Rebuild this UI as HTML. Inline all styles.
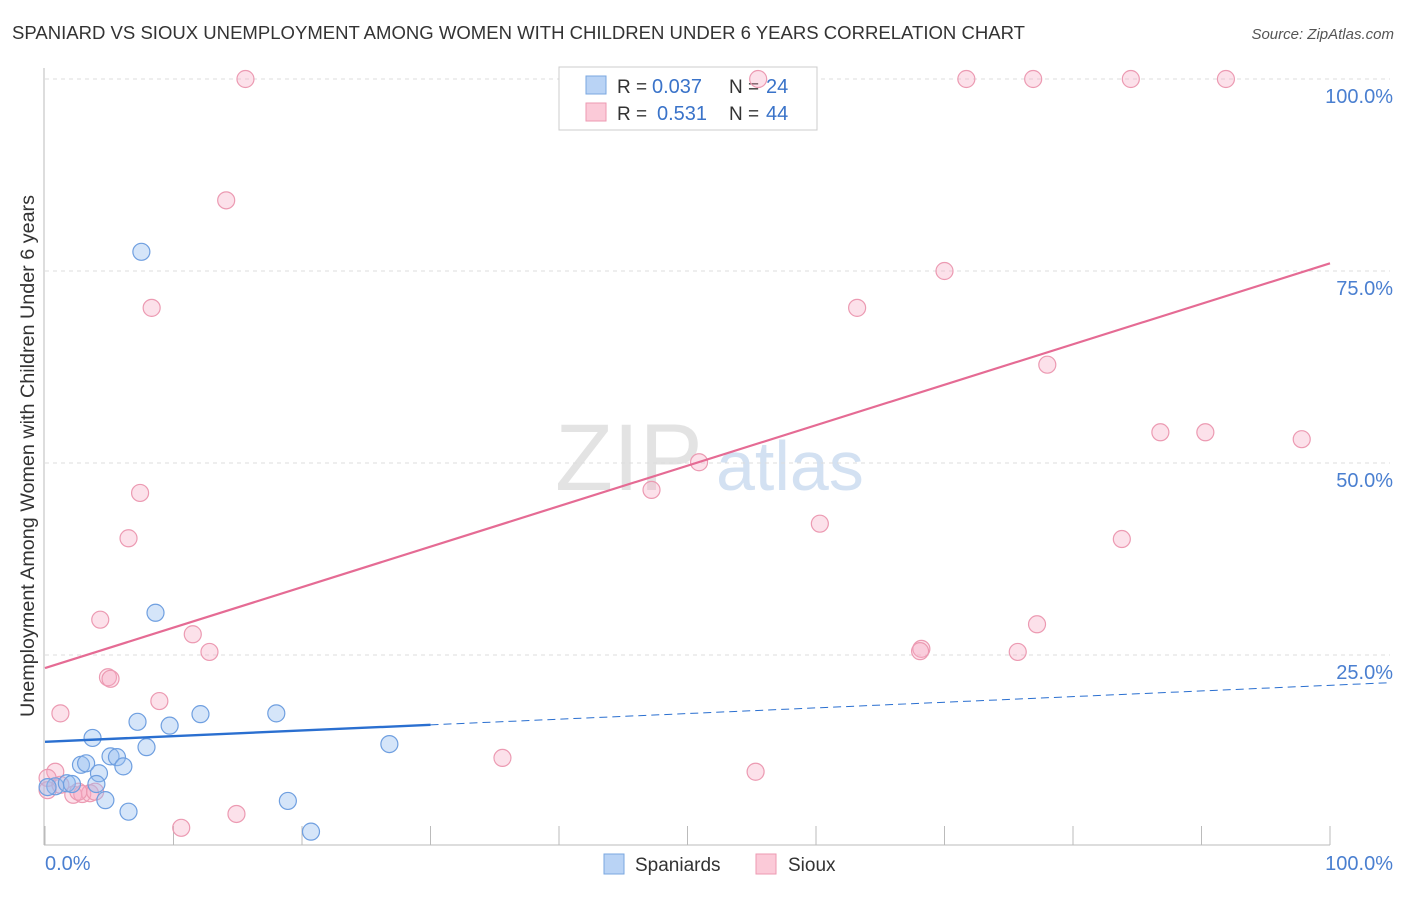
<!DOCTYPE html>
<html><head><meta charset="utf-8"><style>
body{margin:0;background:#fff;font-family:"Liberation Sans",sans-serif;}
svg text{font-family:"Liberation Sans",sans-serif;}
</style></head><body>
<svg id="chart" width="1406" height="892" xmlns="http://www.w3.org/2000/svg">
<text x="12" y="39" font-size="18" fill="#333" textLength="1013" lengthAdjust="spacingAndGlyphs">SPANIARD VS SIOUX UNEMPLOYMENT AMONG WOMEN WITH CHILDREN UNDER 6 YEARS CORRELATION CHART</text>
<text x="1394" y="39" font-size="15" fill="#555" font-style="italic" text-anchor="end">Source: ZipAtlas.com</text>
<text transform="translate(34,456) rotate(-90)" font-size="19" fill="#333" text-anchor="middle" textLength="522" lengthAdjust="spacingAndGlyphs">Unemployment Among Women with Children Under 6 years</text>
<g><text x="555" y="490" font-size="95" fill="#ddd" font-family="Liberation Serif" opacity="0.8">ZIP</text><text x="716" y="490" font-size="70" fill="#c9daf0" opacity="0.8">atlas</text></g>
<g id="grid"></g><g id="axes"></g>
<g>
<rect x="559" y="67" width="258" height="63" fill="#fff" stroke="#ccc"/>
<rect x="586" y="76" width="20" height="18" fill="#b9d3f5" stroke="#7aa7e0"/>
<rect x="586" y="103" width="20" height="18" fill="#fbcad8" stroke="#ec9ab2"/>
<text x="617" y="93" font-size="19" fill="#333">R =</text><text x="652" y="93" font-size="20" fill="#3a73c9">0.037</text>
<text x="729" y="93" font-size="19" fill="#333">N =</text><text x="766" y="93" font-size="20" fill="#3a73c9">24</text>
<text x="617" y="120" font-size="19" fill="#333">R =</text><text x="657" y="120" font-size="20" fill="#3a73c9">0.531</text>
<text x="729" y="120" font-size="19" fill="#333">N =</text><text x="766" y="120" font-size="20" fill="#3a73c9">44</text>
</g>
<g id="marks"></g>
<g>
<rect x="604" y="854" width="20" height="20" fill="#b9d3f5" stroke="#7aa7e0"/>
<text x="635" y="871" font-size="19" fill="#333">Spaniards</text>
<rect x="756" y="854" width="20" height="20" fill="#fbcad8" stroke="#ec9ab2"/>
<text x="788" y="871" font-size="19" fill="#333">Sioux</text>
</g>
</svg>
<script>
const yTicks=[25,50,75,100];
const yTickLabels=["25.0%","50.0%","75.0%","100.0%"];
const spanX=[7.5,8.6,3.7,7.2,9.7,12.1,18.0,7.9,5.1,5.6,6.1,2.8,3.2,4.2,26.8,0.8,1.7,4.0,2.1,4.7,6.5,18.9,20.7,0.2];
const spanY=[77.5,30.5,14.2,16.3,15.8,17.3,17.4,13.0,11.8,11.7,10.5,10.7,10.9,9.6,13.4,7.9,8.3,8.2,8.2,6.1,4.6,6.0,2.0,7.8];
const siouxX=[15.6,55.5,71.7,76.9,84.5,91.9,14.1,8.3,70.0,63.2,78.0,86.8,90.3,97.8,50.9,47.2,7.4,60.3,83.8,6.5,4.3,11.5,12.8,77.2,68.2,68.1,75.7,4.9,5.1,8.9,1.2,35.6,55.3,0.8,0.2,2.2,2.9,3.5,2.6,10.6,14.9,0.2,1.2,3.9];
const siouxY=[100,100,100,100,100,100,84.2,70.2,75.0,70.2,62.8,54.0,54.0,53.1,50.1,46.5,46.1,42.1,40.1,40.2,29.6,27.7,25.4,29.0,25.8,25.5,25.4,22.1,21.9,19.0,17.4,11.6,9.8,9.8,9.0,6.8,6.9,7.0,7.2,2.5,4.3,7.4,8.1,7.2];
const siouxTrend=[23.3,76.0];
const spanTrend=[13.7,21.4];
const sx=v=>45+v*12.85, sy=v=>847-v*7.68;
const NS="http://www.w3.org/2000/svg";
function mk(t,a,p){const e=document.createElementNS(NS,t);for(const k in a)e.setAttribute(k,a[k]);document.getElementById(p).appendChild(e);return e;}
yTicks.forEach((t,i)=>{
 const l=mk('line',{x1:45,x2:1390,y1:sy(t),y2:sy(t),stroke:'#ddd','stroke-dasharray':'4,4'},'grid');
 
 
 const tx=mk('text',{x:1393,y:sy(t)+24,'font-size':20,fill:'#4a7fd0','text-anchor':'end'},'axes');
 tx.textContent=yTickLabels[i];
 
 
});
let a=mk('line',{x1:44,x2:44,y1:68,y2:845,stroke:'#bbb'},'axes');

a=mk('line',{x1:44,x2:1330,y1:845,y2:845,stroke:'#bbb'},'axes');

for(let i=0;i<=10;i++){const t=mk('line',{x1:sx(i*10),x2:sx(i*10),y1:826,y2:845,stroke:'#bbb'},'axes');
 
 }
let t=mk('text',{x:45,y:870,'font-size':20,fill:'#4a7fd0'},'axes');t.textContent='0.0%';

t=mk('text',{x:1393,y:870,'font-size':20,fill:'#4a7fd0','text-anchor':'end'},'axes');t.textContent='100.0%';

siouxX.forEach((x,i)=>{const c=mk('circle',{cx:sx(x),cy:sy(siouxY[i]),r:8.5,fill:'rgba(247,170,195,0.35)',stroke:'#ec9ab2','stroke-width':1.2},'marks');
 
 });
spanX.forEach((x,i)=>{const c=mk('circle',{cx:sx(x),cy:sy(spanY[i]),r:8.5,fill:'rgba(150,190,240,0.4)',stroke:'#6f9fe0','stroke-width':1.2},'marks');
 
 });
let ln=mk('line',{x1:sx(0),y1:sy(siouxTrend[0]),x2:sx(100),y2:sy(siouxTrend[1]),stroke:'#e56b94','stroke-width':2.2},'marks');

const sl=(spanTrend[1]-spanTrend[0])/104.7;
ln=mk('line',{x1:sx(0),y1:sy(spanTrend[0]),x2:sx(30),y2:sy(spanTrend[0]+sl*30),stroke:'#2a6fd0','stroke-width':2.4},'marks');

ln=mk('line',{x1:sx(30),y1:sy(spanTrend[0]+sl*30),x2:sx(104.7),y2:sy(spanTrend[1]),stroke:'#2a6fd0','stroke-width':1,'stroke-dasharray':'8,5'},'marks');

</script>
</body></html>
